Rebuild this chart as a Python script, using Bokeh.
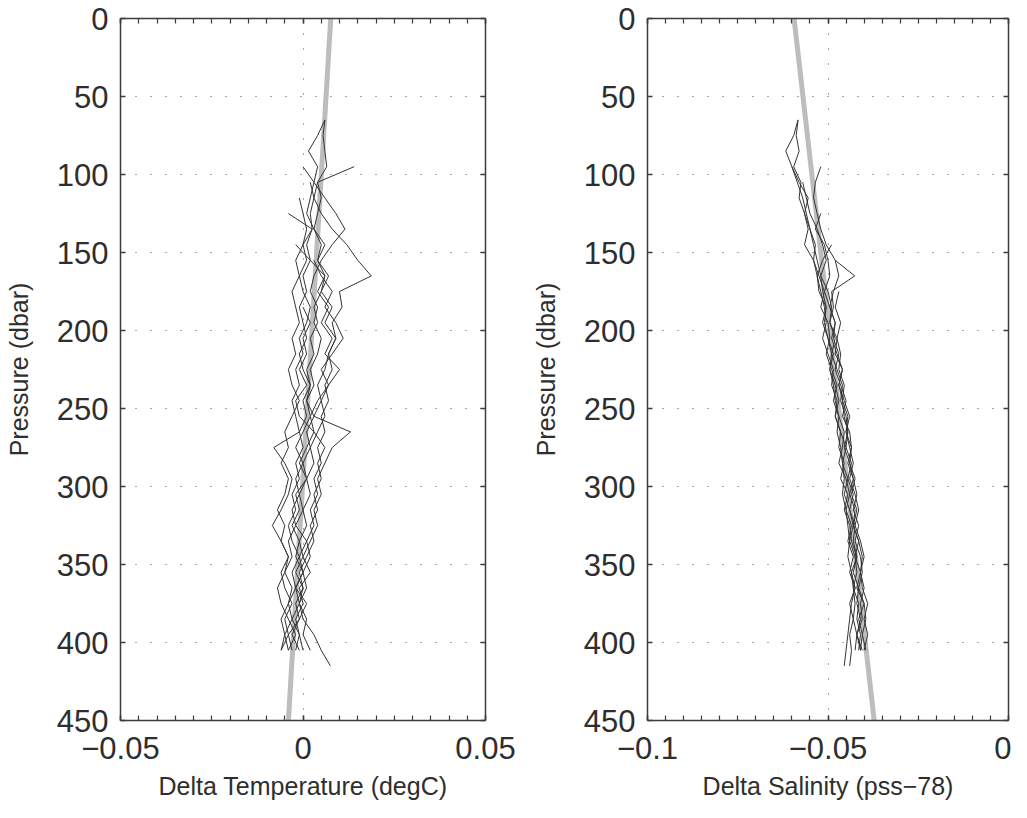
import numpy as np
from bokeh.plotting import figure
from bokeh.layouts import row
from bokeh.models import FixedTicker, Range1d, LinearAxis, CustomJSTickFormatter
from bokeh.embed import file_html
from bokeh.resources import INLINE

# ---------------- data ----------------
pressure_ticks = [0, 50, 100, 150, 200, 250, 300, 350, 400, 450]
temp_ticks = [-0.05, 0, 0.05]
sal_ticks = [-0.1, -0.05, 0]
pressure_step = 10  # dbar between profile samples

# grey reference (fit) lines: value at 0 dbar and at 450 dbar
fit_pressure = [0, 450]
temp_fit = [0.0076, -0.0040]
sal_fit = [-0.0594, -0.0372]

# temperature difference profiles (1e-3 degC), start pressure in dbar
temp_start = [65, 65, 95, 95, 125, 145, 105, 115, 155, 185]
temp_1 = [6, 4, 1.5, 4, 3, 2, 1, 3, 5, 4, 6, 5, 3, 4, 2, 3, 1, 2, 0, 1, -1, 0, -2, -1, -3, -2, -4, -3, -1, -3, -2, -4, -3, -5, -4]
temp_2 = [6, 5.5, 6, 6.5, 4, 3, 2, 2.5, 1, 2, 0, 1, -1, 0, 1, -1, 0, 2, 1, 3, 1, 2, 0, 1, -1, 0, -2, 1, -1, 0, -2, -1, -3, -1, -2]
temp_3 = [14, 4, 5, 4, 3, 6, 4, 7, 5, 8, 6, 9, 7, 6, 4, 5, 3, 13, 8, 6, 4, 5, 3, 4, 2, 0, 2, -1, 0, -2, -1, 0]
temp_4 = [0, 3, 6, 9, 11.5, 8, 5, 3, 2, 4, 3, 5, 4, 2, 3, 1, 2, 0, -2, 0, -2, -1, -3, -2, -4, -3, -5, -3, -4, -6, -5, -6]
temp_5 = [-4, 2.5, 0, 1, -1, 0, 2, 1, -1, 0, -2, -1, -3, -2, -1, -8, -5, -3, -4, -6, -8.4, -6, -4, -6, -5, -3, -5, -4, -6]
temp_6 = [-2, 2, 6, 4, 7, 5, 8, 6, 10, 7, 5, 6, 4, 2, 3, 1, 2, 0, 1, -1, 0, -2, 0, -1, 1, 0, 2]
temp_7 = [2, 3, 5, 8, 12, 15, 18.7, 10, 10.7, 8, 9, 7, 8, 6, 7, 5, 6, 4, 5, 3, 4, 2, 3, 1, 2, 0, 1, -1, 0, 3, 5, 7.5]
temp_8 = [-1, 0, 1, 0, -2, -1, -3, -2, -1, -3, -2, -4, -3, -1, -3, -5, -4, -6, -4, -5, -7, -5, -6, -4, -5, -7, -6, -4, -2, -4]
temp_9 = [3, 5, 8, 6, 9, 11, 8, 5, 7, 4, 2, 3, 1, -1, 1, -2, -1, -3, -1, -2, 0, -2, 1, -1, -3, -1]
temp_10 = [0, 2, 0, 1, -1, 1, -2, -1, 3, 6, 4, 5, 3, 4, 2, 3, 1, -1, 0, -2, -1, -4, -3]

# salinity difference profiles (1e-3 pss-78), start pressure in dbar
sal_start = [65, 65, 95, 95, 125, 145, 105, 175, 155]
sal_1 = [-58.3, -59.5, -61.7, -60, -58.5, -57, -56, -55, -54, -53, -52, -51.5, -50.5, -51, -50, -49, -49.5, -48.5, -48, -47, -47.5, -46.5, -46, -45.5, -46, -45, -44.5, -44, -44.5, -43.5, -43, -42.5, -43, -42, -42.5]
sal_2 = [-58.3, -58.8, -58, -59.5, -57.5, -58, -56.5, -55.5, -56.5, -54, -53, -52, -51, -50.5, -51.5, -50, -48.5, -49, -47.5, -48, -46.5, -47, -45.5, -46.5, -44.5, -45.5, -44, -43.5, -42, -43, -41.5, -42, -41, -42, -40.5]
sal_3 = [-52, -53.5, -54, -53, -52, -50.5, -48, -42.6, -49, -48.5, -49.5, -48, -49, -47.5, -46, -46.5, -45, -44.5, -45.5, -44, -43, -44, -42.5, -43, -41.5, -40.5, -41, -42, -40, -41.5, -40.5, -41]
sal_4 = [-60, -58, -55.5, -56.5, -55, -53.5, -54, -52.5, -51, -52, -50, -49.5, -50.5, -49, -47.5, -48.5, -47, -45.5, -46, -47, -45, -44, -45, -43.5, -44.5, -43, -44, -42.5, -43.5, -44, -44.5, -45, -45.5]
sal_5 = [-52, -53.5, -51, -50, -49.5, -51, -49.5, -48, -48.5, -47, -48, -46.5, -45, -46, -44, -43.5, -44.5, -43, -42, -43, -41.5, -42.5, -41, -40.5, -41.5, -40, -39.5, -40.5, -39.5]
sal_6 = [-49, -51.5, -53, -52.5, -50.5, -51.5, -50, -48.5, -49.5, -48, -47, -48, -46.5, -45, -46, -44.5, -45.5, -44, -43, -44, -42.5, -42, -43, -41.5, -42, -41, -41.5]
sal_7 = [-57, -56, -55, -53, -51.5, -50.5, -52, -50, -49, -49.5, -47.5, -46.5, -47, -45.5, -46, -44.5, -45, -44, -43, -44, -42.5, -41.5, -42.5, -41, -40, -41, -40.5, -39, -40, -39, -40]
sal_8 = [-47, -48, -46.5, -47.5, -48, -46, -47, -45.5, -44, -45, -43.5, -44, -42.5, -43.5, -42, -43, -41.5, -42.5, -41, -40, -41, -40.5, -42, -41]
sal_9 = [-48, -47, -48.5, -49.5, -48, -49, -47.5, -46, -47, -46, -45.5, -44.5, -45, -43.5, -44.5, -43, -44, -42.5, -43, -42, -43.5, -42.5, -44, -43, -44, -43.5, -44]

temp_profiles = [temp_1, temp_2, temp_3, temp_4, temp_5, temp_6, temp_7, temp_8, temp_9, temp_10]
sal_profiles = [sal_1, sal_2, sal_3, sal_4, sal_5, sal_6, sal_7, sal_8, sal_9]

# ---------------- styling ----------------
FONT = "Liberation Sans"
TXT = "#2e2e2e"
AXC = "#3c3c3c"
FIG_H = 802

fmt_code = """
const a = Math.abs(tick);
const s = parseFloat(a.toPrecision(6)).toString();
return (tick < -1e-12 ? "\u2212" : "") + s;
"""


def build_xy(starts, profiles):
    xs, ys = [], []
    for s, vals in zip(starts, profiles):
        xs.append([v * 1e-3 for v in vals])
        ys.append([s + pressure_step * i for i in range(len(vals))])
    return xs, ys


def style_lines(ax):
    ax.major_tick_in = 5
    ax.major_tick_out = 0
    ax.minor_tick_in = 5
    ax.minor_tick_out = 0
    ax.axis_line_color = AXC
    ax.axis_line_width = 1.5
    ax.major_tick_line_color = AXC
    ax.minor_tick_line_color = AXC
    ax.major_tick_line_width = 1.5
    ax.minor_tick_line_width = 1.2


def make_fig(xr, xticks, xlabel, xgrid_at, width, mb_right, starts, profiles, fit):
    lo, hi = xr
    minor = list(np.round(np.linspace(lo, hi, 21), 6))
    p = figure(width=width, height=FIG_H,
               x_range=Range1d(lo, hi), y_range=Range1d(450, 0),
               output_backend="svg", toolbar_location=None,
               min_border_left=120, min_border_right=mb_right,
               min_border_top=18, min_border_bottom=80,
               background_fill_color="white", border_fill_color="white",
               outline_line_color=None)

    xt = FixedTicker(ticks=xticks, minor_ticks=minor)
    yt = FixedTicker(ticks=pressure_ticks, minor_ticks=[])
    fmt = CustomJSTickFormatter(code=fmt_code)

    bx = p.below[0]
    bx.ticker = xt
    bx.formatter = fmt
    bx.axis_label = xlabel
    ly = p.left[0]
    ly.ticker = yt
    ly.formatter = fmt
    ly.axis_label = "Pressure (dbar)"

    for ax in (bx, ly):
        style_lines(ax)
        ax.major_label_text_font = FONT
        ax.major_label_text_font_size = "31px"
        ax.major_label_text_color = TXT
        ax.axis_label_text_font = FONT
        ax.axis_label_text_font_size = "25px"
        ax.axis_label_text_font_style = "normal"
        ax.axis_label_text_color = TXT
    bx.major_label_standoff = 16
    bx.axis_label_standoff = 10
    ly.major_label_standoff = 12
    ly.axis_label_standoff = 21

    above = LinearAxis(ticker=xt)
    right = LinearAxis(ticker=yt)
    for ax in (above, right):
        style_lines(ax)
        ax.major_label_text_font_size = "0px"
        ax.major_label_text_color = None
        ax.major_label_standoff = 0
        ax.axis_label_standoff = 0
    p.add_layout(above, "above")
    p.add_layout(right, "right")

    p.xgrid.ticker = FixedTicker(ticks=xgrid_at)
    p.ygrid.ticker = FixedTicker(ticks=pressure_ticks[1:-1])
    for g in (p.xgrid, p.ygrid):
        g.grid_line_color = "#555555"
        g.grid_line_width = 1
        g.grid_line_dash = "1 14"

    p.line(x=fit, y=fit_pressure, line_color="#bdbdbd", line_width=5)
    xs, ys = build_xy(starts, profiles)
    p.multi_line(xs=xs, ys=ys, line_color="#333333", line_width=1)
    return p


p1 = make_fig((-0.05, 0.05), temp_ticks, "Delta Temperature (degC)", [0], 527, 42,
              temp_start, temp_profiles, temp_fit)
p2 = make_fig((-0.1, 0.0), sal_ticks, "Delta Salinity (pss\u221278)", [-0.05], 484, 3,
              sal_start, sal_profiles, sal_fit)

layout = row(p1, p2, spacing=0)
open("out.html", "w").write(file_html(layout, INLINE))
